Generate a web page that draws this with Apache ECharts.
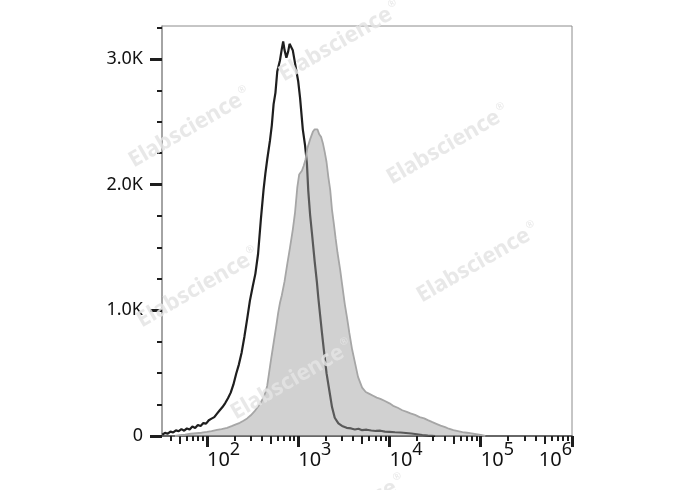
<!DOCTYPE html>
<html><head><meta charset="utf-8">
<script src="https://cdn.jsdelivr.net/npm/echarts@6/dist/echarts.min.js"></script>
<style>html,body{margin:0;padding:0;background:#fff}#c{width:688px;height:490px}</style>
</head><body><div id="c"></div>
<script>
// x values are log10 of fluorescence intensity, y values are cell counts
const controlCurve = [[1.51,10],[1.54,25],[1.57,18],[1.60,35],[1.63,28],[1.66,45],[1.69,38],[1.72,55],[1.75,42],[1.78,60],[1.81,52],[1.84,75],[1.87,64],[1.90,88],[1.93,80],[1.96,103],[1.99,98],[2.02,125],[2.05,138],[2.08,150],[2.11,178],[2.14,205],[2.17,230],[2.20,262],[2.23,300],[2.26,345],[2.29,410],[2.32,495],[2.35,570],[2.38,665],[2.41,790],[2.44,930],[2.47,1075],[2.50,1185],[2.53,1290],[2.56,1450],[2.59,1720],[2.62,1960],[2.64,2090],[2.66,2200],[2.69,2350],[2.71,2470],[2.73,2640],[2.75,2730],[2.77,2900],[2.80,2990],[2.82,3080],[2.835,3140],[2.85,3070],[2.87,3010],[2.89,3060],[2.905,3120],[2.92,3125],[2.94,3070],[2.965,2965],[3.0,2820],[3.02,2690],[3.05,2440],[3.075,2310],[3.095,2170],[3.11,1950],[3.13,1760],[3.15,1615],[3.18,1390],[3.205,1220],[3.22,1100],[3.24,960],[3.26,820],[3.28,690],[3.31,500],[3.35,320],[3.37,230],[3.40,145],[3.44,100],[3.48,80],[3.53,65],[3.58,60],[3.62,52],[3.66,58],[3.70,46],[3.75,50],[3.80,44],[3.85,40],[3.90,42],[3.95,35],[4.0,33],[4.06,30],[4.12,28],[4.18,24],[4.24,20],[4.30,14],[4.36,8],[4.42,4],[4.50,0]];
const stainedCurve = [[1.65,0],[1.70,6],[1.76,10],[1.82,18],[1.88,22],[1.94,26],[2.0,32],[2.05,38],[2.11,48],[2.16,55],[2.22,64],[2.27,78],[2.31,90],[2.36,105],[2.40,122],[2.44,140],[2.48,165],[2.52,195],[2.55,225],[2.58,255],[2.61,295],[2.64,345],[2.66,400],[2.68,500],[2.70,600],[2.73,740],[2.76,880],[2.78,980],[2.80,1060],[2.82,1120],[2.85,1230],[2.88,1370],[2.91,1500],[2.94,1640],[2.965,1780],[2.99,1980],[3.01,2080],[3.04,2110],[3.06,2150],[3.08,2200],[3.10,2290],[3.13,2360],[3.16,2420],[3.18,2440],[3.195,2455],[3.21,2440],[3.23,2400],[3.25,2380],[3.27,2330],[3.29,2260],[3.31,2180],[3.33,2060],[3.35,1960],[3.37,1800],[3.39,1690],[3.41,1570],[3.43,1460],[3.46,1320],[3.48,1210],[3.51,1050],[3.535,940],[3.56,820],[3.59,690],[3.62,590],[3.655,470],[3.70,385],[3.74,350],[3.78,335],[3.82,320],[3.86,305],[3.90,295],[3.95,278],[4.0,260],[4.04,240],[4.09,225],[4.14,205],[4.19,192],[4.23,180],[4.28,168],[4.33,150],[4.38,140],[4.42,126],[4.47,110],[4.52,95],[4.56,82],[4.61,70],[4.65,58],[4.70,46],[4.75,38],[4.80,30],[4.85,26],[4.90,20],[4.95,14],[5.0,8],[5.05,0]];
const decadeTicks = [2,3,4,5,6];
const decadeLabelsLeft = [2,3,4,5];
const decadeLabelsRight = [6];
const yLabelValues = [0,1000,2000,3000];
const yMinorValues = [250,500,750,1250,1500,1750,2250,2500,2750,3250];
const minorMultipliers = [2,3,4,6,7,8,9];
const midMultipliers = [5];
const watermarkText = 'Elabscience';
const xMin = 1.507, xMax = 6, yMax = 3262;

function logTicks(mults){
  const out=[];
  for (let d=1; d<6; d++) for (const m of mults){
    const v = d + Math.log10(m);
    if (v >= xMin && v <= xMax) out.push(v);
  }
  return out;
}
const FONT = 'Noto Sans';
const gridGeom = {left:162, right:116, top:26, bottom:54};
const powFmt = v => '{b|10}{s|' + Math.round(v) + '}';
const powRich = {
  b:{fontSize:20, lineHeight:22, fontFamily:FONT, color:'#111', verticalAlign:'bottom'},
  s:{fontSize:18, lineHeight:18, fontFamily:FONT, color:'#111', padding:[0,0,11,0], verticalAlign:'bottom'}
};
const hidden = {show:false};
const wmPos = [[190,128],[340,42],[448,145],[478,263],[198,288],[292,380],[345,515]];

const chart = echarts.init(document.getElementById('c'), null, {renderer:'canvas'});
chart.setOption({
  animation:false,
  grid:[
    Object.assign({show:true, borderColor:'#8c8c8c', borderWidth:1}, gridGeom),
    Object.assign({}, gridGeom),
    Object.assign({}, gridGeom)
  ],
  xAxis:[
    {gridIndex:0, type:'value', min:xMin, max:xMax, splitLine:hidden,
     axisLine:{show:true, lineStyle:{color:'#4a4a4a', width:1.5}},
     axisTick:{show:true, customValues:decadeTicks, length:11, lineStyle:{color:'#1e1e1e', width:3}},
     axisLabel:{show:true, customValues:decadeLabelsLeft, align:'left', margin:12, formatter:powFmt, rich:powRich}},
    {gridIndex:1, type:'value', min:xMin, max:xMax, splitLine:hidden, axisLine:hidden,
     axisTick:{show:true, customValues:logTicks(midMultipliers), length:8, lineStyle:{color:'#1e1e1e', width:2}},
     axisLabel:{show:true, customValues:decadeLabelsRight, align:'right', margin:12, formatter:powFmt, rich:powRich}},
    {gridIndex:2, type:'value', min:xMin, max:xMax, splitLine:hidden, axisLine:hidden,
     axisTick:{show:true, customValues:logTicks(minorMultipliers), length:5, lineStyle:{color:'#1e1e1e', width:2}},
     axisLabel:hidden}
  ],
  yAxis:[
    {gridIndex:0, type:'value', min:0, max:yMax, splitLine:hidden,
     axisLine:{show:true, lineStyle:{color:'#9a9a9a', width:1.5}},
     axisTick:{show:true, customValues:yLabelValues, length:12, lineStyle:{color:'#1e1e1e', width:3}},
     axisLabel:{show:true, customValues:yLabelValues, margin:19, fontSize:18, fontFamily:FONT, color:'#111',
       formatter:v => v === 0 ? '0' : (v/1000).toFixed(1) + 'K'}},
    {gridIndex:1, type:'value', min:0, max:yMax, splitLine:hidden, axisLine:hidden,
     axisTick:{show:true, customValues:yMinorValues, length:5, lineStyle:{color:'#1e1e1e', width:2}},
     axisLabel:hidden},
    {gridIndex:2, type:'value', min:0, max:yMax, splitLine:hidden, axisLine:hidden, axisTick:hidden, axisLabel:hidden}
  ],
  series:[
    {type:'line', xAxisIndex:0, yAxisIndex:0, data:controlCurve, showSymbol:false, symbol:'none',
     lineStyle:{color:'#1e1e1e', width:2.2}, z:2},
    {type:'line', xAxisIndex:0, yAxisIndex:0, data:stainedCurve, showSymbol:false, symbol:'none',
     lineStyle:{color:'#a6a6a6', width:1.8}, areaStyle:{color:'rgba(158,158,158,0.47)', opacity:1}, z:3}
  ],
  graphic: wmPos.map(p => ({
    type:'text', x:p[0], y:p[1], rotation:Math.PI/6, z:100, silent:true,
    style:{text:'{m|' + watermarkText + '}{r|®}', align:'center', verticalAlign:'middle',
      rich:{m:{fontSize:22, fontWeight:'bold', fontFamily:FONT, fill:'rgba(228,228,228,0.85)'},
            r:{fontSize:10, fontFamily:FONT, fill:'rgba(228,228,228,0.85)', padding:[0,0,14,2]}}}
  }))
});
</script></body></html>
